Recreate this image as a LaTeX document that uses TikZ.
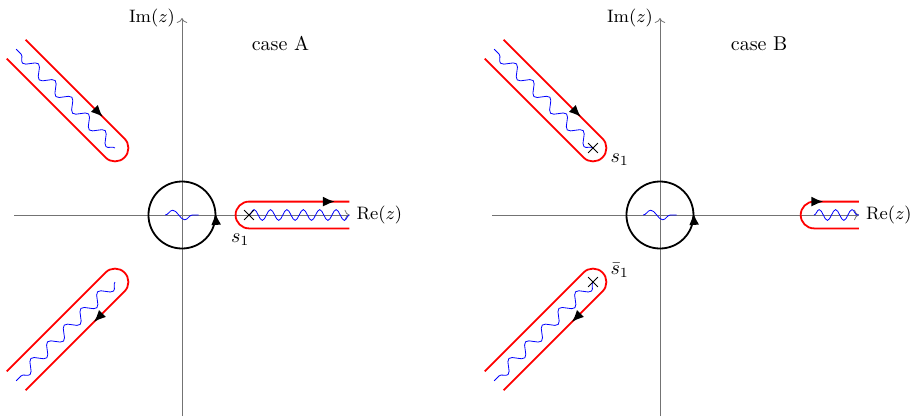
\documentclass[tikz,border=0pt]{standalone}
\usepackage{amsmath}
\usetikzlibrary{arrows.meta,decorations.pathmorphing,decorations.markings,shapes.misc}

% branch cut: [wave length] rotation, cap centre, outer end, position of arrow
\newcommand\keyhole[5][11.8pt]{%
  \draw[cut, rotate=#2, arrat=#5] (#4,-0.2) -- (#3,-0.2)
    arc[start angle=-90, end angle=-270, radius=0.2] -- (#4,0.2);
  \draw[wave, rotate=#2, decoration={segment length=#1}] (#3,0) -- (#4,0);
}

\begin{document}
\begin{tikzpicture}[
  x=33.5pt, y=33.5pt,
  axis/.style={->, black!55, line width=0.4pt},
  cut/.style={red, line width=0.9pt},
  loopc/.style={black, line width=0.9pt},
  wave/.style={blue, line width=0.4pt, decorate,
    decoration={snake, amplitude=2.7pt, segment length=11.8pt}},
  arrat/.style={postaction={decorate, decoration={markings,
    mark=at position #1 with {\arrow[black]{Latex[length=6pt,width=5pt]}}}}},
  pole/.style={draw, cross out, inner sep=0pt, minimum size=4.5pt, line width=0.4pt},
  lbl/.style={font=\small, text=black}
]
\useasboundingbox (-2.716,-3.015) rectangle (10.940,3.209);

% case A
\begin{scope}
  \draw[axis] (-2.5,0) -- (2.5,0) node[lbl, right] (reA) {$\mathrm{Re}(z)$};
  \draw[axis] (0,-3) -- (0,2.94) node[lbl, left] (imA) {$\mathrm{Im}(z)$};
  \node (caseA) at (1.47,2.56) {case A};
  \draw[loopc, arrat=0.26] (0,-0.5) arc[start angle=-90, end angle=270, radius=0.5];
  \draw[wave, decoration={segment length=12pt, amplitude=2.4pt}] (-0.25,0) -- (0.25,0);
  \keyhole[8.2pt]{0}{1}{2.5}{0.94}
  \keyhole{135}{1.414}{3.5}{0.34}
  \keyhole{225}{1.414}{3.5}{0.70}
  \node[pole] (sA) at (1,0) {};
  \node (sAl) at (0.87,-0.37) {$s_1$};
\end{scope}

% case B
\begin{scope}[shift={(7.134,0)}]
  \draw[axis] (-2.5,0) -- (2.97,0) node[lbl, right] (reB) {$\mathrm{Re}(z)$};
  \draw[axis] (0,-3) -- (0,2.94) node[lbl, left] (imB) {$\mathrm{Im}(z)$};
  \node (caseB) at (1.48,2.56) {case B};
  \draw[loopc, arrat=0.26] (0,-0.5) arc[start angle=-90, end angle=270, radius=0.5];
  \draw[wave, decoration={segment length=12pt, amplitude=2.4pt}] (-0.25,0) -- (0.25,0);
  \keyhole[8.2pt]{0}{2.3}{2.97}{0.73}
  \keyhole{135}{1.414}{3.5}{0.34}
  \keyhole{225}{1.414}{3.5}{0.70}
  \node[pole] (sB) at (-1,1) {};
  \node[pole] (sBb) at (-1,-1) {};
  \node (sBl) at (-0.6,0.82) {$s_1$};
  \node (sBbl) at (-0.6,-0.82) {$\bar{s}_1$};
\end{scope}
\end{tikzpicture}
\end{document}
